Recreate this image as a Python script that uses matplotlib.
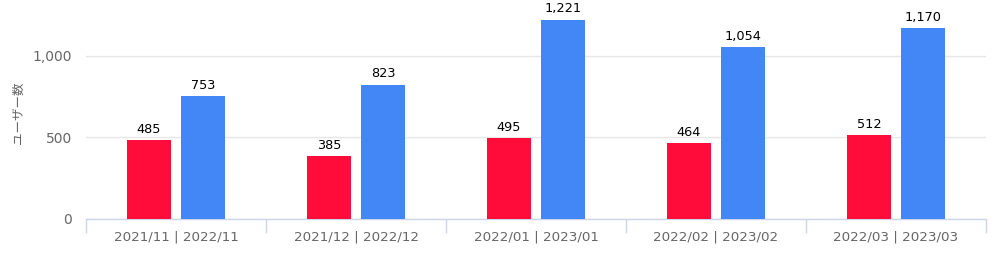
import matplotlib
matplotlib.use("Agg")
import matplotlib.pyplot as plt
import numpy as np

categories = ["2021/11 | 2022/11", "2021/12 | 2022/12", "2022/01 | 2023/01",
              "2022/02 | 2023/02", "2022/03 | 2023/03"]
prev_year = [485, 385, 495, 464, 512]
this_year = [753, 823, 1221, 1054, 1170]
y_ticks = [0, 500, 1000]
y_tick_labels = ["0", "500", "1,000"]
y_label = "ユーザー数"

red = "#FF0C3A"
blue = "#4287F5"

fig = plt.figure(figsize=(10, 2.57), dpi=100)
ax = fig.add_axes([0.086, 0.148, 0.9, 0.794])

x = np.arange(len(categories))
w = 0.239
off = 0.15
b1 = ax.bar(x - off, prev_year, w, color=red, zorder=3)
b2 = ax.bar(x + off, this_year, w, color=blue, zorder=3)

for bars, vals in ((b1, prev_year), (b2, this_year)):
    for rect, v in zip(bars, vals):
        ax.annotate(f"{v:,}", (rect.get_x() + rect.get_width() / 2, v),
                    xytext=(0, 3), textcoords="offset points",
                    ha="center", va="bottom", fontsize=9.3, color="#000000",
                    family="DejaVu Sans")

ax.set_xlim(-0.5, len(categories) - 0.5)
ax.set_ylim(0, 1250)
ax.set_yticks(y_ticks)
ax.set_yticklabels(y_tick_labels)
ax.yaxis.grid(True, color="#E6E6E6", linewidth=1, zorder=0)
ax.set_axisbelow(True)

ax.set_xticks(x)
ax.set_xticklabels(categories)
ax.set_xticks(np.arange(-0.5, len(categories)), minor=True)
ax.tick_params(axis="x", which="major", length=0, pad=8, labelsize=9.7, labelcolor="#666666")
ax.tick_params(axis="x", which="minor", length=10, color="#CCD6EB", width=1)
ax.tick_params(axis="y", length=0, pad=10, labelsize=10, labelcolor="#666666")

for s in ["top", "right", "left"]:
    ax.spines[s].set_visible(False)
ax.spines["bottom"].set_color("#CCD6EB")
ax.spines["bottom"].set_linewidth(1)

ax.set_ylabel(y_label, family=["Noto Sans CJK JP", "DejaVu Sans"], fontsize=9,
              color="#666666")
ax.yaxis.set_label_coords(-0.0756, 0.52)
ax.yaxis.label.set_verticalalignment("center")

fig.savefig("out.png", dpi=100)
